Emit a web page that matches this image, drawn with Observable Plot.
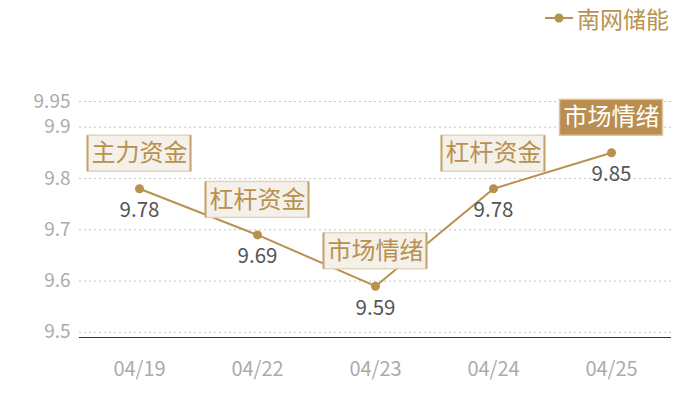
<!DOCTYPE html>
<html>
<head>
<meta charset="utf-8">
<script src="https://cdn.jsdelivr.net/npm/d3@7"></script>
<script src="https://cdn.jsdelivr.net/npm/@observablehq/plot@0.6"></script>
<style>
  html, body { margin: 0; padding: 0; background: #fff; }
  #wrap { position: relative; width: 700px; height: 400px; font-family: "Noto Sans CJK SC", "Noto Sans", sans-serif; }
  #legend { position: absolute; top: 4px; right: 31px; display: flex; align-items: center; color: #b8914f; font-size: 23px; line-height: 28px; z-index: 2; }
  #legend svg { margin-right: 4px; }
</style>
</head>
<body>
<div id="wrap">
  <div id="legend"></div>
  <div id="chart"></div>
</div>
<script>
const dates = ["04/19", "04/22", "04/23", "04/24", "04/25"];
const prices = [9.78, 9.69, 9.59, 9.78, 9.85];
const tags = ["主力资金", "杠杆资金", "市场情绪", "杠杆资金", "市场情绪"];
const highlight = [false, false, false, false, true];
const yTicks = [9.5, 9.6, 9.7, 9.8, 9.9, 9.95];
const yDomain = [9.49, 9.95];
const seriesName = "南网储能";

const gold = "#b8914f";
const data = dates.map((d, i) => ({date: d, price: prices[i], tag: tags[i], hi: highlight[i]}));

// legend
const leg = document.getElementById("legend");
leg.innerHTML = `<svg width="28" height="12"><line x1="0" x2="28" y1="6" y2="6" stroke="${gold}" stroke-width="2"/><circle cx="14" cy="6" r="4.5" fill="${gold}"/></svg><span>${seriesName}</span>`;

const tagSize = 24;
const boxes = (index, scales) => {
  const g = d3.create("svg:g");
  for (const d of data) {
    const cx = scales.x(d.date);
    const cy = scales.y(d.price) - 35;
    const w = d.tag.length * tagSize + 7, h = 36;
    const x0 = cx - w / 2, y0 = cy - h / 2;
    g.append("rect").attr("x", x0).attr("y", y0).attr("width", w).attr("height", h)
      .attr("fill", d.hi ? "#b98e4f" : "#f4f0ea")
      .attr("stroke", d.hi ? "#dcc7a4" : "#e3d4bc").attr("stroke-width", 1.5);
    if (!d.hi) {
      g.append("line").attr("x1", x0).attr("x2", x0).attr("y1", y0).attr("y2", y0 + h).attr("stroke", "#c6a26c").attr("stroke-width", 2);
      g.append("line").attr("x1", x0 + w).attr("x2", x0 + w).attr("y1", y0).attr("y2", y0 + h).attr("stroke", "#c6a26c").attr("stroke-width", 2);
    }
  }
  return g.node();
};

const chart = Plot.plot({
  width: 700,
  height: 400,
  marginTop: 101,
  marginBottom: 63,
  marginLeft: 79,
  marginRight: 29,
  style: {fontFamily: "'Noto Sans CJK SC', 'Noto Sans', sans-serif", background: "transparent"},
  x: {type: "point", domain: dates, padding: 0.5},
  y: {domain: yDomain},
  marks: [
    Plot.gridY(yTicks, {stroke: "#c4c4c4", strokeOpacity: 1, strokeDasharray: "2,3"}),
    Plot.ruleY([yDomain[0]], {stroke: "#333", strokeWidth: 1.2}),
    Plot.axisY({ticks: yTicks, tickFormat: d => String(d), tickSize: 0, tickPadding: 9, fontSize: 19, color: "#ababab", label: null}),
    Plot.axisX({tickSize: 0, tickPadding: 24, fontSize: 20, color: "#ababab", label: null}),
    Plot.line(data, {x: "date", y: "price", stroke: gold, strokeWidth: 2}),
    Plot.dot(data, {x: "date", y: "price", r: 4.5, fill: gold}),
    Plot.text(data, {x: "date", y: "price", text: d => d.price.toFixed(2), dy: 22, fontSize: 20.5, fill: "#555"}),
    boxes,
    Plot.text(data.filter(d => !d.hi), {x: "date", y: "price", text: "tag", dy: -35, fontSize: tagSize, fill: gold}),
    Plot.text(data.filter(d => d.hi), {x: "date", y: "price", text: "tag", dy: -35, fontSize: tagSize, fill: "#fff"})
  ]
});
document.getElementById("chart").appendChild(chart);
</script>
</body>
</html>
